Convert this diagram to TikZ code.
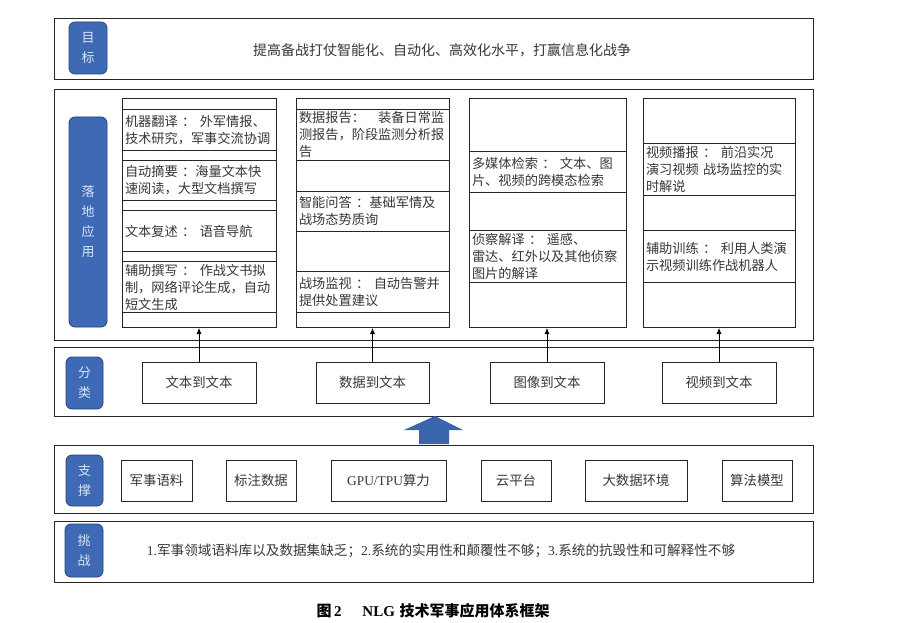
\documentclass[tikz,border=0pt]{standalone}
\usepackage{fontspec}
\setmainfont{Liberation Serif}
\newfontfamily\cjk{Noto Sans CJK SC}
\newfontfamily\latf{Liberation Serif}
\usetikzlibrary{arrows.meta}
\definecolor{pillblue}{RGB}{62,105,180}
\definecolor{pilledge}{RGB}{40,68,125}
\definecolor{pilltext}{RGB}{215,228,248}
\definecolor{txt}{RGB}{55,55,55}
\definecolor{bigarrow}{RGB}{58,100,172}
\newcommand\lt[1]{{\latf #1}}
\begin{document}
\begin{tikzpicture}[x=1pt,y=-1pt,
  band/.style={draw=black!85, line width=0.9pt, rectangle, inner sep=0pt},
  pill/.style={fill=pillblue, draw=pilledge, line width=0.8pt, rounded corners=6pt,
    text=pilltext, align=center, inner sep=0pt, font=\cjk\fontsize{13}{20}\selectfont},
  colbox/.style={draw=black!85, line width=0.7pt, rectangle, inner sep=0pt},
  rowbox/.style={draw=black!85, line width=0.7pt, rectangle, inner xsep=3pt, inner ysep=1pt,
    align=left, text=txt, font=\cjk\fontsize{13.2}{16.8}\selectfont},
  tbox/.style={draw=black!85, line width=0.7pt, rectangle, inner sep=0pt,
    text=txt, font=\cjk\fontsize{13.4}{16}\selectfont},
  conn/.style={draw=black, line width=0.6pt, -{Latex[length=6pt,width=5pt]}}
]
\useasboundingbox (0,0) rectangle (907,623);
\fill[white] (0,0) rectangle (907,623);

% ---------- bands ----------
\node[band, minimum width=759pt, minimum height=61pt] (goal) at (433.5,48.5) {};
\node[band, minimum width=759pt, minimum height=251pt] (app) at (433.5,214.5) {};
\node[band, minimum width=759pt, minimum height=69pt] (cls) at (433.5,381.5) {};
\node[band, minimum width=759pt, minimum height=68pt] (sup) at (433.5,479) {};
\node[band, minimum width=759pt, minimum height=61pt] (chl) at (433.5,551.5) {};

% ---------- side pills ----------
\node[pill, minimum width=38pt, minimum height=52pt] (pgoal) at (88,48) {目\\标};
\node[pill, minimum width=38pt, minimum height=210pt] (papp) at (88,222) {落\\地\\应\\用};
\node[pill, minimum width=37pt, minimum height=52pt] (pcls) at (84.5,383) {分\\类};
\node[pill, minimum width=37pt, minimum height=51pt] (psup) at (84.5,480.5) {支\\撑};
\node[pill, minimum width=38pt, minimum height=53pt] (pchl) at (84,550.5) {挑\\战};

% ---------- goal text ----------
\node[text=txt, font=\cjk\fontsize{14}{16}\selectfont] (goaltext) at (442,50)
  {提高备战打仗智能化、自动化、高效化水平，打赢信息化战争};

% ---------- application columns ----------
\node[colbox, minimum width=154pt, minimum height=229.4pt] (col1) at (199,213) {};
\node[colbox, minimum width=153pt, minimum height=229.4pt] (col2) at (372.5,213) {};
\node[colbox, minimum width=157pt, minimum height=229.4pt] (col3) at (547.5,213) {};
\node[colbox, minimum width=152pt, minimum height=229.4pt] (col4) at (719,213) {};

% column 1
\node[rowbox, minimum width=154pt, minimum height=41.7pt, text width=148pt] (r11) at (199,129.85)
  {机器翻译 ： 外军情报、\\技术研究，军事交流协调};
\node[rowbox, minimum width=154pt, minimum height=40pt, text width=148pt] (r12) at (199,180)
  {自动摘要 ：海量文本快\\速阅读，大型文档撰写};
\node[rowbox, minimum width=154pt, minimum height=41pt, text width=148pt] (r13) at (199,231.2)
  {文本复述 ： 语音导航};
\node[rowbox, minimum width=154pt, minimum height=51pt, text width=148pt] (r14) at (199,287.2)
  {辅助撰写 ： 作战文书拟\\制，网络评论生成，自动\\短文生成};

% column 2
\node[rowbox, minimum width=153pt, minimum height=51pt, text width=147pt] (r21) at (372.5,134.5)
  {数据报告：　装备日常监\\测报告，阶段监测分析报\\告};
\node[rowbox, minimum width=153pt, minimum height=40pt, text width=147pt] (r22) at (372.5,211)
  {智能问答 ：基础军情及\\战场态势质询};
\node[rowbox, minimum width=153pt, minimum height=41pt, text width=147pt] (r23) at (372.5,292.2)
  {战场监视 ： 自动告警并\\提供处置建议};

% column 3
\node[rowbox, minimum width=157pt, minimum height=41.3pt, text width=151pt] (r31) at (547.5,171.65)
  {多媒体检索 ： 文本、图\\片、视频的跨模态检索};
\node[rowbox, minimum width=157pt, minimum height=52pt, text width=151pt] (r32) at (547.5,256.7)
  {侦察解译 ： 遥感、\\雷达、红外以及其他侦察\\图片的解译};

% column 4
\node[rowbox, minimum width=152pt, minimum height=52.4pt, text width=146pt] (r41) at (719,169.5)
  {视频播报 ： 前沿实况\\演习视频 战场监控的实\\时解说};
\node[rowbox, minimum width=152pt, minimum height=52pt, text width=146pt] (r42) at (719,256.7)
  {辅助训练 ： 利用人类演\\示视频训练作战机器人};

% ---------- classification boxes ----------
\node[tbox, minimum width=114pt, minimum height=41pt] (c1) at (199,382.5) {文本到文本};
\node[tbox, minimum width=113pt, minimum height=41pt] (c2) at (372.5,382.5) {数据到文本};
\node[tbox, minimum width=114pt, minimum height=41pt] (c3) at (547,382.5) {图像到文本};
\node[tbox, minimum width=114pt, minimum height=41pt] (c4) at (719,382.5) {视频到文本};

\draw[conn] (c1.north) -- (c1.north |- col1.south);
\draw[conn] (c2.north) -- (c2.north |- col2.south);
\draw[conn] (c3.north) -- (c3.north |- col3.south);
\draw[conn] (c4.north) -- (c4.north |- col4.south);

% ---------- big arrow support -> classification ----------
\coordinate (bigtip) at (435,416);
\fill[bigarrow] (bigtip) -- ++(28,14) -- ++(-14,0) -- ++(0,14) -- ++(-30,0) -- ++(0,-14) -- ++(-15,0) -- cycle;

% ---------- support boxes ----------
\node[tbox, minimum width=71pt, minimum height=41pt] (s1) at (156.5,480.5) {军事语料};
\node[tbox, minimum width=70pt, minimum height=41pt] (s2) at (261,480.5) {标注数据};
\node[tbox, minimum width=115pt, minimum height=41pt] (s3) at (388.5,480.5) {\lt{GPU/TPU}算力};
\node[tbox, minimum width=70pt, minimum height=41pt] (s4) at (516,480.5) {云平台};
\node[tbox, minimum width=102pt, minimum height=41pt] (s5) at (636,480.5) {大数据环境};
\node[tbox, minimum width=70pt, minimum height=41pt] (s6) at (757,480.5) {算法模型};

% ---------- challenge text ----------
\node[text=txt, font=\cjk\fontsize{13.6}{16}\selectfont] (chltext) at (441,551)
  {\lt{1.}军事领域语料库以及数据集缺乏；\lt{2.}系统的实用性和颠覆性不够；\lt{3.}系统的抗毁性和可解释性不够};

% ---------- caption ----------
\node[text=black, font=\fontsize{15}{17}\selectfont] (caption) at (433,611)
  {{\cjk\bfseries 图}\,{\latf\bfseries 2}\hspace{1.4em}{\latf\bfseries NLG}\hspace{0.3em}{\cjk\bfseries 技术军事应用体系框架}};
\end{tikzpicture}
\end{document}
